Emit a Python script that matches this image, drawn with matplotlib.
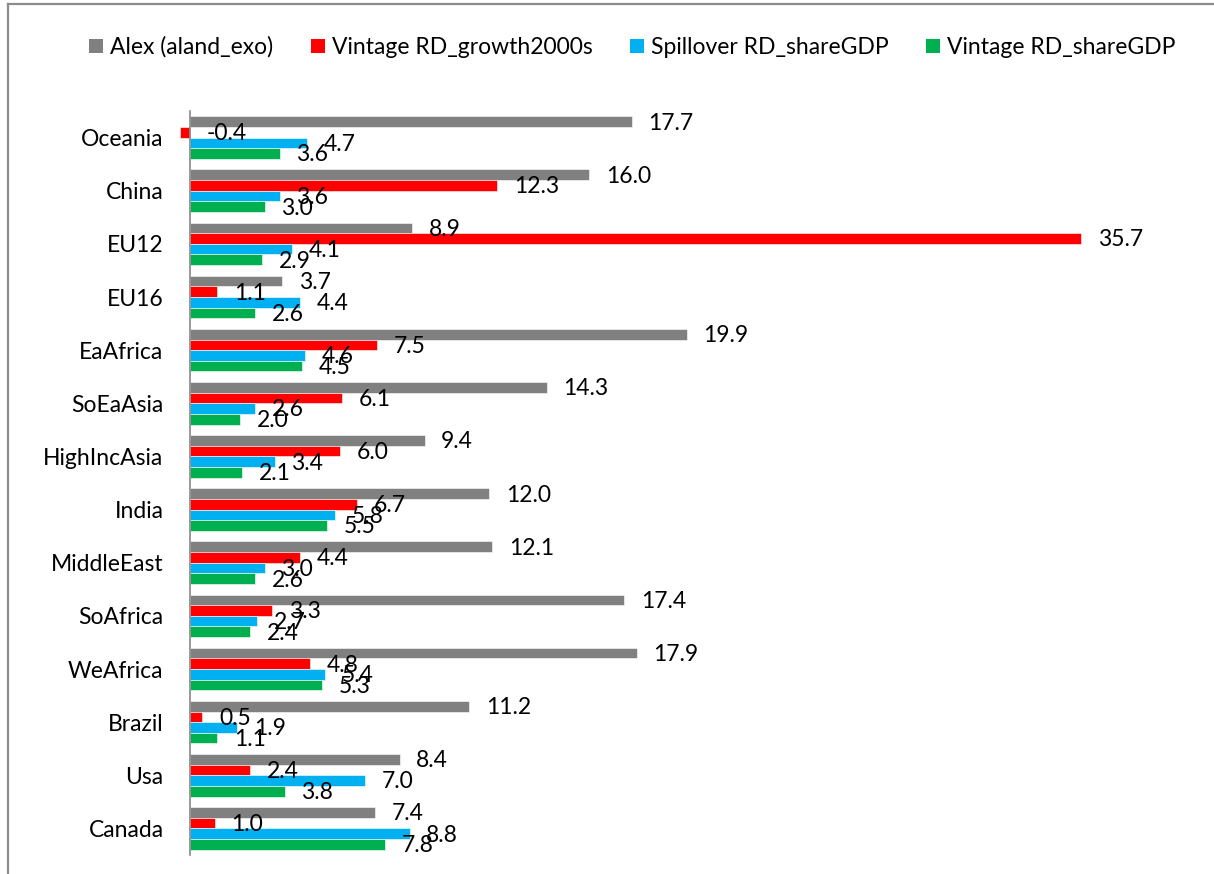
import matplotlib
matplotlib.use("Agg")
import matplotlib.pyplot as plt
import numpy as np
from matplotlib.patches import Patch
from matplotlib.lines import Line2D

plt.rcParams['font.family'] = ['Lato', 'DejaVu Sans']

regions = ["Oceania", "China", "EU12", "EU16", "EaAfrica", "SoEaAsia", "HighIncAsia",
           "India", "MiddleEast", "SoAfrica", "WeAfrica", "Brazil", "Usa", "Canada"]

alex = [17.7, 16.0, 8.9, 3.7, 19.9, 14.3, 9.4, 12.0, 12.1, 17.4, 17.9, 11.2, 8.4, 7.4]
vintage_growth = [-0.4, 12.3, 35.7, 1.1, 7.5, 6.1, 6.0, 6.7, 4.4, 3.3, 4.8, 0.5, 2.4, 1.0]
spillover_share = [4.7, 3.6, 4.1, 4.4, 4.6, 2.6, 3.4, 5.8, 3.0, 2.7, 5.4, 1.9, 7.0, 8.8]
vintage_share = [3.6, 3.0, 2.9, 2.6, 4.5, 2.0, 2.1, 5.5, 2.6, 2.4, 5.3, 1.1, 3.8, 7.8]

series_names = ["Alex (aland_exo)", "Vintage RD_growth2000s",
                "Spillover RD_shareGDP", "Vintage RD_shareGDP"]
series = [alex, vintage_growth, spillover_share, vintage_share]
colors = ["#808080", "#FF0000", "#00B0F0", "#00B050"]

FS = 16.5

fig = plt.figure(figsize=(12.14, 8.74), dpi=100)
ax = fig.add_axes([165 / 1214, 19 / 874, 973.4 / 1214, 744 / 874])

y = np.arange(len(regions))
h = 0.2
for k, (vals, col) in enumerate(zip(series, colors)):
    pos = y + (k - 1.5) * h
    ax.barh(pos, vals, height=h, color=col, edgecolor="white", linewidth=0.4)
    for p, v in zip(pos, vals):
        ax.annotate(f"{v:.1f}", xy=(max(v, 0), p), xytext=(12, -1),
                    textcoords="offset points", ha="left", va="center", fontsize=FS)

ax.set_xlim(-1, 38)
ax.set_ylim(len(regions) - 0.5, -0.5)
ax.set_yticks(y, regions)
ax.tick_params(axis="y", length=0, pad=19, labelsize=FS)
ax.set_xticks([])
for s in ["top", "right", "bottom"]:
    ax.spines[s].set_visible(False)
ax.spines["left"].set_position(("data", 0))
ax.spines["left"].set_color("#888888")
ax.spines["left"].set_linewidth(1.2)
ax.patch.set_visible(False)

handles = [Patch(facecolor=c, edgecolor="none") for c in colors]
fig.legend(handles, series_names, loc="center", bbox_to_anchor=(0.521, 0.946),
           ncol=4, frameon=False, fontsize=FS, handlelength=0.6, handleheight=0.6,
           handletextpad=0.3, columnspacing=1.65)

# outer chart border (top and left edges)
fig.add_artist(Line2D([8 / 1214, 8 / 1214], [0, 1 - 4 / 874], transform=fig.transFigure,
                      color="#8c8c8c", linewidth=1.6))
fig.add_artist(Line2D([8 / 1214, 1], [1 - 4 / 874, 1 - 4 / 874], transform=fig.transFigure,
                      color="#8c8c8c", linewidth=1.6))

fig.savefig("out.png", dpi=100)
